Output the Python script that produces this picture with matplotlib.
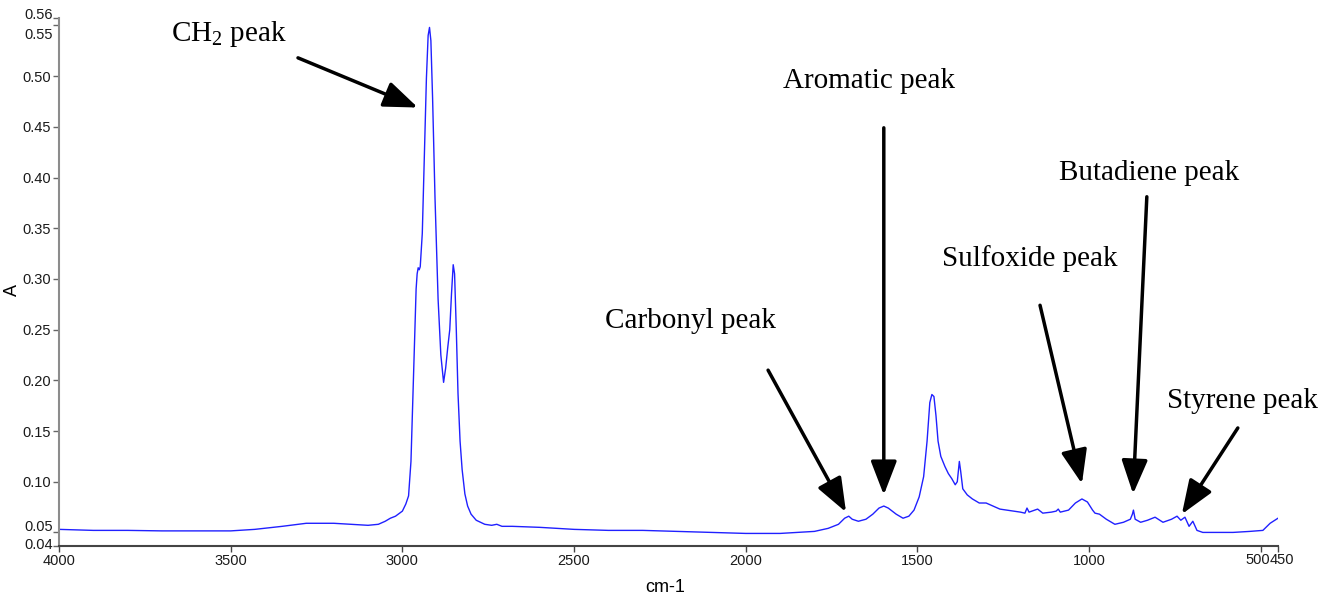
import numpy as np
import matplotlib.pyplot as plt

# FTIR spectrum: wavenumber (cm-1) and absorbance
wavenumber = [4000, 3900, 3800, 3700, 3600, 3500, 3430, 3350, 3280, 3200,
              3150, 3100, 3070, 3050, 3035, 3020, 3000, 2990, 2982, 2975,
              2966, 2960, 2957, 2954, 2951, 2948, 2942, 2936, 2930, 2925,
              2921, 2917, 2912, 2905, 2896, 2888, 2880, 2874, 2868, 2862,
              2857, 2852, 2848, 2843, 2838, 2832, 2826, 2818, 2810, 2800,
              2785, 2760, 2740, 2725, 2710, 2680, 2600, 2500, 2400, 2300,
              2200, 2100, 2000, 1900, 1850, 1800, 1760, 1730, 1712, 1700,
              1690, 1672, 1650, 1630, 1612, 1598, 1585, 1562, 1542, 1525,
              1510, 1495, 1482, 1472, 1464, 1458, 1452, 1446, 1440, 1432,
              1420, 1410, 1400, 1390, 1384, 1378, 1374, 1368, 1355, 1340,
              1320, 1300, 1280, 1260, 1240, 1220, 1200, 1187, 1181, 1175,
              1150, 1135, 1110, 1096, 1090, 1084, 1060, 1040, 1021, 1005,
              990, 983, 970, 950, 925, 900, 880, 874, 871, 866,
              850, 830, 808, 785, 760, 744, 733, 721, 709, 698,
              686, 669, 620, 581, 532, 494, 473, 450]
absorbance = [0.053, 0.052, 0.052, 0.0515, 0.0515, 0.0515, 0.053, 0.056, 0.059, 0.059,
              0.058, 0.057, 0.058, 0.061, 0.064, 0.066, 0.071, 0.078, 0.086, 0.120,
              0.223, 0.290, 0.305, 0.311, 0.309, 0.312, 0.345, 0.420, 0.498, 0.540,
              0.548, 0.535, 0.478, 0.380, 0.280, 0.225, 0.198, 0.212, 0.232, 0.250,
              0.285, 0.314, 0.305, 0.250, 0.187, 0.140, 0.112, 0.088, 0.076, 0.068,
              0.062, 0.058, 0.057, 0.058, 0.056, 0.056, 0.055, 0.053, 0.052, 0.052,
              0.051, 0.050, 0.049, 0.049, 0.050, 0.051, 0.054, 0.058, 0.064, 0.066,
              0.063, 0.061, 0.063, 0.068, 0.074, 0.076, 0.074, 0.068, 0.064, 0.066,
              0.072, 0.085, 0.105, 0.140, 0.178, 0.186, 0.184, 0.165, 0.140, 0.125,
              0.115, 0.108, 0.103, 0.097, 0.100, 0.120, 0.110, 0.093, 0.087, 0.083,
              0.079, 0.079, 0.076, 0.073, 0.072, 0.071, 0.070, 0.069, 0.074, 0.070,
              0.073, 0.069, 0.070, 0.071, 0.073, 0.070, 0.072, 0.079, 0.083, 0.080,
              0.072, 0.069, 0.068, 0.063, 0.058, 0.060, 0.063, 0.068, 0.072, 0.063,
              0.060, 0.062, 0.065, 0.060, 0.063, 0.066, 0.062, 0.065, 0.056, 0.061,
              0.052, 0.050, 0.050, 0.050, 0.051, 0.052, 0.059, 0.064]

x_ticks = [4000, 3500, 3000, 2500, 2000, 1500, 1000, 500, 450]
y_min, y_max = 0.0366, 0.5573
y_ticks = [y_min, 0.05, 0.10, 0.15, 0.20, 0.25, 0.30, 0.35, 0.40, 0.45, 0.50, 0.55, y_max]
y_tick_labels = ['0.04', '0.05', '0.10', '0.15', '0.20', '0.25', '0.30', '0.35',
                 '0.40', '0.45', '0.50', '0.55', '0.56']

# peak labels: text, text position, arrow tail, arrow head (wavenumber, absorbance)
peak_labels = [r'$\mathregular{CH_2}$ peak', 'Aromatic peak', 'Butadiene peak',
               'Sulfoxide peak', 'Carbonyl peak', 'Styrene peak']
label_pos = [(3505, 0.542), (1640, 0.495), (826, 0.404),
             (1172, 0.320), (2160, 0.258), (555, 0.180)]
arrow_tail = [(3304, 0.518), (1598, 0.449), (832, 0.381),
              (1143, 0.274), (1935, 0.210), (567, 0.153)]
arrow_head = [(2955, 0.469), (1598, 0.087), (872, 0.088),
              (1021, 0.098), (1708, 0.070), (730, 0.068)]

tick_font = 'Liberation Sans'
tick_size = 10.5

fig = plt.figure(figsize=(13.28, 5.98), dpi=100)
ax = fig.add_axes([59 / 1328, 52 / 598, 1219 / 1328, 528 / 598])

ax.plot(wavenumber, absorbance, color='#2020ff', linewidth=1.0)

ax.set_xlim(4000, 450)
ax.set_ylim(y_min, y_max)

# crowded tick labels at the axis ends are placed by hand with small offsets
y_shift = {0: 1, 1: 5, 11: -10, 12: 3}
x_shift = {7: ('right', 9), 8: ('left', -8)}

ax.set_xticks(x_ticks)
ax.set_xticklabels(['' if i in x_shift else str(t) for i, t in enumerate(x_ticks)],
                   family=tick_font, fontsize=tick_size)
ax.set_yticks(y_ticks)
ax.set_yticklabels(['' if i in y_shift else s for i, s in enumerate(y_tick_labels)],
                   family=tick_font, fontsize=tick_size)

for i, dy in y_shift.items():
    ax.annotate(y_tick_labels[i], xy=(0, y_ticks[i]), xycoords=('axes fraction', 'data'),
                xytext=(-6, dy), textcoords='offset pixels', ha='right', va='center',
                family=tick_font, fontsize=tick_size, color='#1a1a1a')
for i, (ha, dx) in x_shift.items():
    ax.annotate(str(x_ticks[i]), xy=(x_ticks[i], 0), xycoords=('data', 'axes fraction'),
                xytext=(dx, -7), textcoords='offset pixels', ha=ha, va='top',
                family=tick_font, fontsize=tick_size, color='#1a1a1a')

ax.tick_params(axis='both', direction='out', length=4, width=1, pad=2)
ax.tick_params(axis='y', colors='#666666', labelcolor='#1a1a1a')
ax.tick_params(axis='x', colors='#444444', labelcolor='#1a1a1a')

for side in ['top', 'right']:
    ax.spines[side].set_visible(False)
ax.spines['left'].set_color('#8c8c8c')
ax.spines['left'].set_linewidth(1.5)
ax.spines['bottom'].set_color('#444444')
ax.spines['bottom'].set_linewidth(1.5)

ax.set_xlabel('cm-1', family=tick_font, fontsize=13)
ax.set_ylabel('A', family=tick_font, fontsize=13)
ax.xaxis.set_label_coords(0.497, -0.063)
ax.yaxis.set_label_coords(-0.031, 0.485)

for text, pos, tail, head in zip(peak_labels, label_pos, arrow_tail, arrow_head):
    ax.text(pos[0], pos[1], text, family='Liberation Serif', fontsize=21,
            ha='center', va='center', clip_on=False)
    ax.annotate('', xy=head, xytext=tail, annotation_clip=False,
                arrowprops=dict(arrowstyle='-|>,head_length=0.65,head_width=0.25',
                                color='black', lw=2.5, mutation_scale=32,
                                shrinkA=0, shrinkB=0))

fig.savefig('out.png', dpi=100)
